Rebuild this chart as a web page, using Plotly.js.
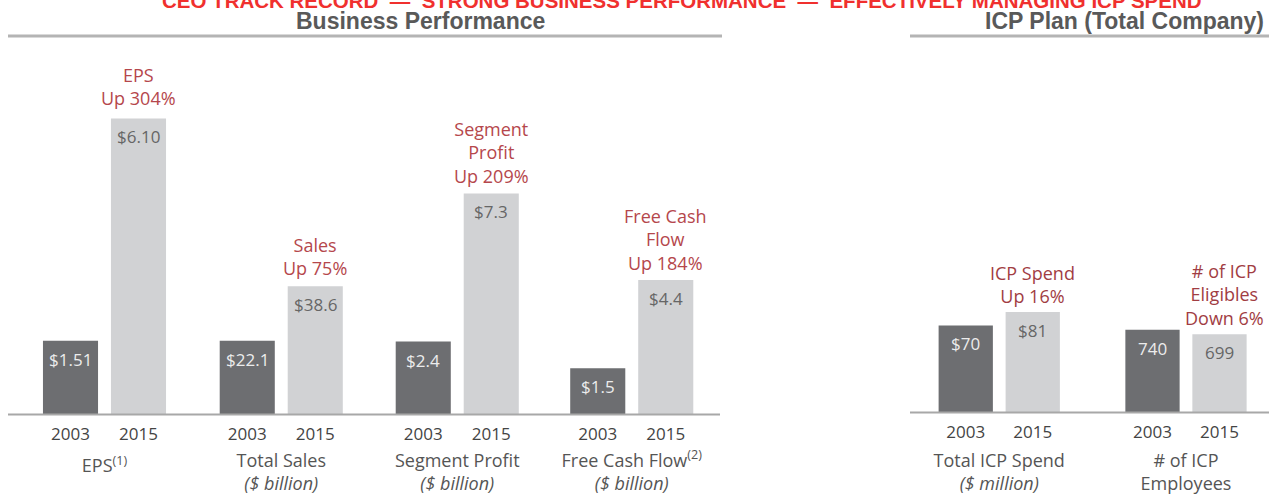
<!DOCTYPE html>
<html><head><meta charset="utf-8">
<script src="https://cdn.plot.ly/plotly-3.0.1.min.js"></script>
<style>html,body{margin:0;padding:0;background:#fff;overflow:hidden}#chart{width:1269px;height:495px}</style>
</head><body><div id="chart"></div>
<script>
// ---------------- DATA ----------------
const years = ['2003', '2015'];
const metrics = ['EPS', 'Total Sales', 'Segment Profit', 'Free Cash Flow', 'Total ICP Spend', '# of ICP Employees'];
const values2003 = [1.51, 22.1, 2.4, 1.5, 70, 740];
const values2015 = [6.10, 38.6, 7.3, 4.4, 81, 699];
const valueLabels2003 = ['$1.51', '$22.1', '$2.4', '$1.5', '$70', '740'];
const valueLabels2015 = ['$6.10', '$38.6', '$7.3', '$4.4', '$81', '699'];
const callouts = ['EPS<br>Up 304%', 'Sales<br>Up 75%', 'Segment<br>Profit<br>Up 209%', 'Free Cash<br>Flow<br>Up 184%', 'ICP Spend<br>Up 16%', '# of ICP<br>Eligibles<br>Down 6%'];
const categoryLabels = ['EPS<sup>(1)</sup>', 'Total Sales<br><i>($ billion)</i>', 'Segment Profit<br><i>($ billion)</i>', 'Free Cash Flow<sup>(2)</sup><br><i>($ billion)</i>', 'Total ICP Spend<br><i>($ million)</i>', '# of ICP<br>Employees'];
const mainTitle = 'CEO TRACK RECORD \u00a0\u2014\u00a0 STRONG BUSINESS PERFORMANCE \u00a0\u2014\u00a0 EFFECTIVELY MANAGING ICP SPEND';
const leftTitle = 'Business Performance';
const rightTitle = 'ICP Plan (Total Company)';

// ---------------- LAYOUT HELPERS ----------------
const W = 1269, H = 495;
const px = x => x / W;
const py = y => (H - y) / H;
const FONT = 'Open Sans, Roboto, sans-serif';
const DARK = '#6d6e71', LIGHT = '#d1d2d4';
// per-panel placement (pixels) and independent value scale
const panels = [
  {cx: 104.5,  sep: 68, base: 414, top: 40, ymax: 7.72,  cFont: '#b5474c', standoff: 15, cy: 6},
  {cx: 281.25, sep: 68, base: 414, top: 40, ymax: 112.9, cFont: '#b5474c', standoff: 15, cy: 4},
  {cx: 457.25, sep: 68, base: 414, top: 40, ymax: 12.38, cFont: '#b5474c', standoff: 15, cy: 3},
  {cx: 631.75, sep: 68, base: 414, top: 40, ymax: 12.27, cFont: '#b5474c', standoff: 15, cy: 3},
  {cx: 999.25, sep: 67, base: 412, top: 40, ymax: 301,   cFont: '#a13d43', standoff: 12, cy: 2, cshift: 0},
  {cx: 1186,   sep: 67, base: 412, top: 40, ymax: 3348,  cFont: '#a13d43', standoff: 12, cy: 2, cshift: 5}
];

const data = [];
const layout = {
  width: W, height: H,
  margin: {l: 0, r: 0, t: 0, b: 0},
  paper_bgcolor: '#fff', plot_bgcolor: 'rgba(0,0,0,0)',
  showlegend: false,
  bargap: 0.19,
  font: {family: FONT, color: '#444'},
  annotations: [], shapes: []
};

metrics.forEach((m, i) => {
  const p = panels[i];
  const n = i === 0 ? '' : String(i + 1);
  const xa = 'x' + n, ya = 'y' + n;
  data.push({
    type: 'bar', x: years, y: [values2003[i], values2015[i]],
    xaxis: xa, yaxis: ya, name: m,
    marker: {color: [DARK, LIGHT], line: {width: 0}},
    hoverinfo: 'skip'
  });
  layout['xaxis' + n] = {
    domain: [px(p.cx - p.sep), px(p.cx + p.sep)], anchor: ya,
    type: 'category', autorange: false, range: [-0.5, 1.5],
    showgrid: false, zeroline: false, showline: false,
    ticks: '', ticklabelstandoff: 8,
    tickfont: {family: FONT, size: 17, color: '#444'},
    title: {text: categoryLabels[i], standoff: p.standoff, font: {family: FONT, size: 18, color: '#555'}},
    fixedrange: true
  };
  layout['yaxis' + n] = {
    domain: [py(p.base), py(p.top)], anchor: xa,
    autorange: false, range: [0, p.ymax], visible: false, fixedrange: true
  };
  // value labels inside the bars (x given as category serial number)
  [values2003[i], values2015[i]].forEach((v, k) => {
    layout.annotations.push({
      xref: xa, yref: ya, x: k, y: v, yanchor: 'top', yshift: -5,
      text: (k === 0 ? valueLabels2003 : valueLabels2015)[i], showarrow: false,
      font: {family: FONT, size: 17, color: k === 0 ? '#ececec' : '#666'}
    });
  });
  // callout above the 2015 bar
  layout.annotations.push({
    xref: xa, yref: ya, x: 1, y: values2015[i], yanchor: 'bottom', yshift: p.cy,
    xshift: p.cshift || 0,
    text: callouts[i], showarrow: false, align: 'center',
    font: {family: FONT, size: 18, color: p.cFont}
  });
});

// headings
layout.annotations.push(
  {xref: 'paper', yref: 'paper', x: px(682), y: py(0), yanchor: 'middle', xanchor: 'center', showarrow: false,
   text: '<b>' + mainTitle + '</b>', font: {family: 'Liberation Sans, Arial, sans-serif', size: 20.5, color: '#f0302e'}},
  {xref: 'paper', yref: 'paper', x: px(420), y: py(21), yanchor: 'middle', xanchor: 'center', showarrow: false,
   text: '<b>' + leftTitle + '</b>', font: {family: 'Liberation Sans, Arial, sans-serif', size: 23, color: '#595959'}},
  {xref: 'paper', yref: 'paper', x: px(1266), y: py(21), yanchor: 'middle', xanchor: 'right', showarrow: false,
   text: '<b>' + rightTitle + '</b>', font: {family: 'Liberation Sans, Arial, sans-serif', size: 23, color: '#595959'}}
);

// rules
const hline = (x0, x1, y, color, w) => ({type: 'line', xref: 'paper', yref: 'paper',
  x0: px(x0), x1: px(x1), y0: py(y), y1: py(y), line: {color: color, width: w}});
layout.shapes.push(
  hline(8, 722, 36, '#b4b4b4', 3),
  hline(910, 1269, 36, '#b4b4b4', 3),
  hline(8, 720, 414.5, '#a8a8a8', 2),
  hline(910, 1269, 412.5, '#a8a8a8', 2)
);

Plotly.newPlot('chart', data, layout, {staticPlot: true, displayModeBar: false});
</script>
</body></html>
